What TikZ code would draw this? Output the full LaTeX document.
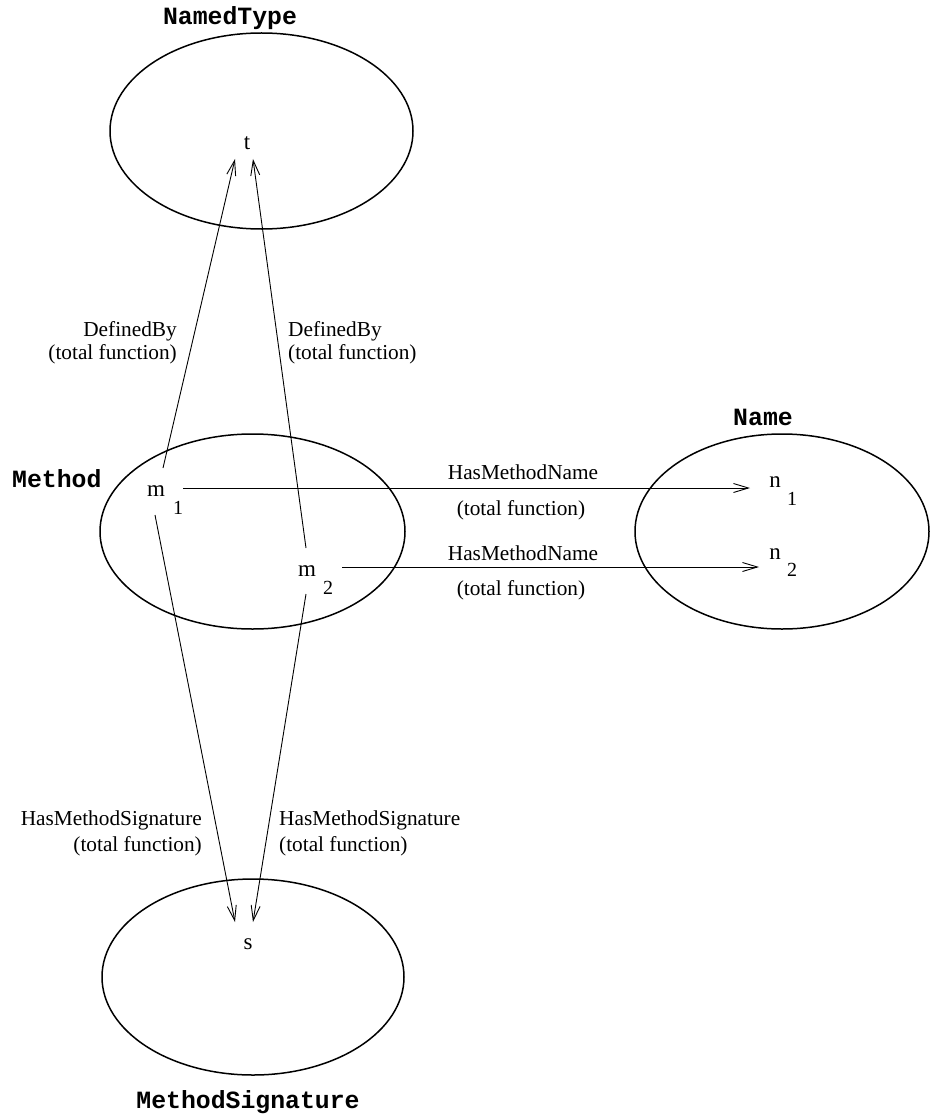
\documentclass[tikz,border=0pt]{standalone}
\usepackage{fontspec}
\setmainfont{Liberation Serif}
\setmonofont{Liberation Mono}
\usetikzlibrary{shapes.geometric,arrows.meta,calc}
\begin{document}
\begin{tikzpicture}[x=1pt,y=-1pt,
  set/.style={draw, ellipse, line width=1.5pt, inner sep=0pt, outer sep=0pt},
  setname/.style={font=\ttfamily\bfseries\fontsize{24.8}{28}\selectfont, inner sep=0pt, anchor=base},
  elem/.style={font=\fontsize{23}{26}\selectfont, inner sep=0pt, anchor=base},
  idx/.style={font=\fontsize{20}{24}\selectfont, inner sep=0pt, anchor=base},
  rel/.style={font=\fontsize{21.3}{24.5}\selectfont, inner sep=0pt},
  fn/.style={line width=0.9pt, -{Straight Barb[length=15pt,width=9pt]}},
]
\useasboundingbox (0,0) rectangle (930,1118);

% the four sets
\node[set, minimum width=303pt, minimum height=196pt] (NT) at (261.5,131) {};
\node[set, minimum width=305pt, minimum height=195pt] (M)  at (252.5,531.5) {};
\node[set, minimum width=294pt, minimum height=195pt] (N)  at (782,531.5) {};
\node[set, minimum width=302pt, minimum height=196pt] (MS) at (253,977) {};

% set names
\node[setname] (NTl) at (230,25) {NamedType};
\node[setname, anchor=base west] (Ml) at (12,487) {Method};
\node[setname] (Nl) at (763,425) {Name};
\node[setname] (MSl) at (248,1108) {MethodSignature};

% elements
\node[elem] (t)  at (247,150) {t};
\node[elem] (s)  at (248,949) {s};
\node[elem] (m1) at (156,496) {m};
\node[idx]  (m1i) at (178,514) {1};
\node[elem] (m2) at (307,576) {m};
\node[idx]  (m2i) at (328,594) {2};
\node[elem] (n1) at (775,487) {n};
\node[idx]  (n1i) at (792,505) {1};
\node[elem] (n2) at (775,559) {n};
\node[idx]  (n2i) at (792,576) {2};

% connector ends beside the element letters
\coordinate (m1u) at ($(m1.base)+(7,-28)$);
\coordinate (m1d) at ($(m1.base)+(-1,19)$);
\coordinate (m1r) at ($(m1.base)+(27,-8)$);
\coordinate (m2u) at ($(m2.base)+(-1,-28)$);
\coordinate (m2d) at ($(m2.base)+(-1,18)$);
\coordinate (m2r) at ($(m2.base)+(35,-9)$);
\coordinate (tl)  at ($(t.base)+(-12,9)$);
\coordinate (tr)  at ($(t.base)+(6,9)$);
\coordinate (sl)  at ($(s.base)+(-13,-27)$);
\coordinate (sr)  at ($(s.base)+(5,-27)$);
\coordinate (n1l) at ($(n1.base)+(-25,1)$);
\coordinate (n2l) at ($(n2.base)+(-16,8)$);

% relations
\draw[fn] (m1u) -- (tl);
\draw[fn] (m2u) -- (tr);
\draw[fn] (m1d) -- (sl);
\draw[fn] (m2d) -- (sr);
\draw[fn] (m1r) -- (n1l);
\draw[fn] (m2r) -- (n2l);

% relation labels
\node[rel, anchor=base east] (db1a) at (177,336) {DefinedBy};
\node[rel, anchor=base east] (db1b) at (177,359) {(total function)};
\node[rel, anchor=base west] (db2a) at (288,336) {DefinedBy};
\node[rel, anchor=base west] (db2b) at (288,359) {(total function)};

\node[rel, anchor=base] (hn1a) at (523,479) {HasMethodName};
\node[rel, anchor=base] (hn1b) at (521,515) {(total function)};
\node[rel, anchor=base] (hn2a) at (523,560) {HasMethodName};
\node[rel, anchor=base] (hn2b) at (521,595) {(total function)};

\node[rel, anchor=base east] (hs1a) at (202,825) {HasMethodSignature};
\node[rel, anchor=base east] (hs1b) at (202,851) {(total function)};
\node[rel, anchor=base west] (hs2a) at (279,825) {HasMethodSignature};
\node[rel, anchor=base west] (hs2b) at (279,851) {(total function)};
\end{tikzpicture}
\end{document}
